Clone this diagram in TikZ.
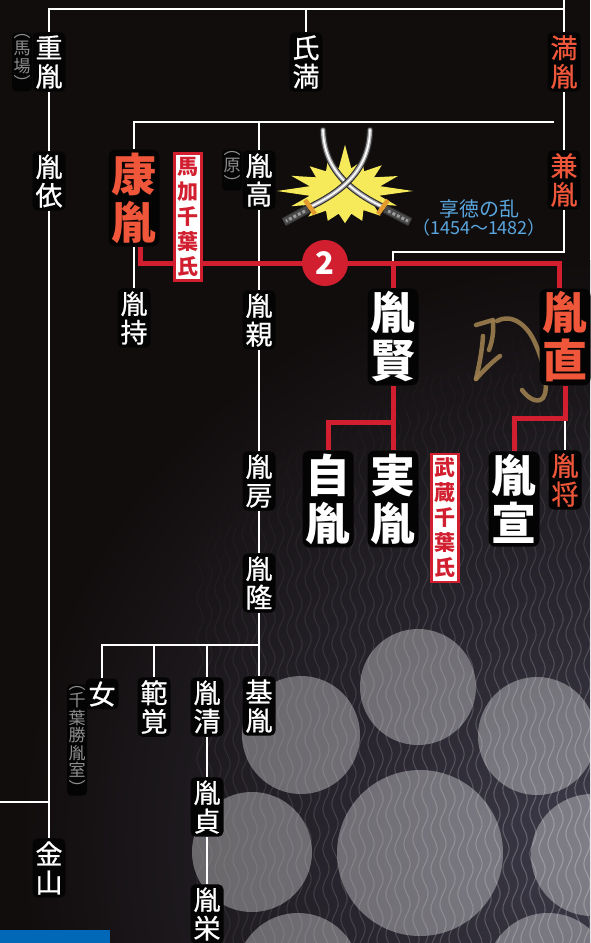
\documentclass[tikz,border=0pt]{standalone}
\usepackage{fontspec}
\setmainfont{Noto Sans CJK JP}
\newfontfamily\jpm[FakeBold=0.7]{Noto Sans CJK JP}
\usetikzlibrary{calc}
\definecolor{bg}{HTML}{110D0D}
\definecolor{halo}{HTML}{050404}
\definecolor{kred}{HTML}{D21F30}
\definecolor{korange}{HTML}{F0573A}
\definecolor{kblue}{HTML}{5AA6DE}
\definecolor{notegrey}{HTML}{8E8E8E}
\definecolor{texA}{HTML}{3E3C4A}
\definecolor{texB}{HTML}{28252E}
\definecolor{starY}{HTML}{F6EA5A}
\definecolor{kao}{HTML}{9C7E4E}
\definecolor{bandblue}{HTML}{0068B7}
\definecolor{bladeEdge}{HTML}{2E2E2E}
\definecolor{bladeGrey}{HTML}{A8A8AC}
\definecolor{guard}{HTML}{E39A2E}
\definecolor{grip}{HTML}{4A4A4A}
\definecolor{gripLight}{HTML}{9A9A9A}
% radial glow: the path's bounding circle corresponds to 25bp
\pgfdeclareradialshading{glow}{\pgfpoint{0bp}{0bp}}{color(0bp)=(texA); color(11bp)=(texB); color(25bp)=(bg); color(50bp)=(bg)}
\pgfdeclarelayer{texture}
\pgfdeclarelayer{lines}
\pgfsetlayers{texture,lines,main}
\begin{document}
\begin{tikzpicture}[x=1pt,y=-1pt,
  wline/.style={draw=white,line width=1.7pt},
  rline/.style={draw=kred,line width=5pt,line join=miter},
  nm/.style={fill=halo,rounded corners=5pt,inner xsep=3pt,inner ysep=3pt,align=center,text=white,font=\jpm\fontsize{27}{28.5}\selectfont},
  big/.style={nm,rounded corners=7pt,font=\bfseries\fontsize{45}{48}\selectfont},
  hl/.style={text=korange},
  note/.style={fill=halo,rounded corners=4pt,inner sep=1.5pt,align=center,text=notegrey,font=\fontsize{17}{17.5}\selectfont},
  clanbox/.style={draw=kred,line width=2.4pt,fill=white,text=kred,align=center,font=\bfseries\fontsize{21}{25}\selectfont,inner xsep=3pt,inner ysep=4pt},
  veil/.style={fill=white,fill opacity=0.34},
  weave/.style={draw=white,line width=1.1pt},
]
\useasboundingbox (0,0) rectangle (590,943);

% ---- textile background ----
\begin{pgfonlayer}{texture}
\fill[bg] (0,0) rectangle (590,943);
\begin{scope}
  \clip (0,0) rectangle (590,943);
  \shade[shading=glow] (600,840) circle (580pt);
  \foreach \xx in {200,209,...,590} {
    \foreach \s in {0,...,17} {
      \pgfmathsetmacro\ya{260+\s*38}
      \pgfmathsetmacro\yb{\ya+38}
      \pgfmathsetmacro\op{max(0,0.26*(1-veclen(\xx-600,\ya+19-840)/520))}
      \draw[weave,opacity=\op] plot[variable=\t,domain=\ya:\yb,samples=9] ({\xx+3.2*sin(\t*9+\xx*5)},\t);
    }
  }
  % translucent discs
  \fill[veil] (418,687) circle (58pt);
  \fill[veil] (301,735) circle (59pt);
  \fill[veil] (537,736) circle (59pt);
  \fill[veil] (420,853) circle (83pt);
  \fill[veil] (252,852) circle (60pt);
  \fill[veil] (592,855) circle (61pt);
  \fill[veil] (298,975) circle (62pt);
  \fill[veil] (548,975) circle (62pt);
\end{scope}
\fill[bandblue] (0,930) rectangle (110,943);
\end{pgfonlayer}

% ---- crossed swords ----
\begin{scope}[shift={(345,191)},yscale=0.70]
  \fill[starY] (0:68) \foreach \a/\r in {11/35,22/56,34/34,45/50,56/33,68/46,79/33,90/46,101/33,112/46,124/34,135/52,146/34,158/58,169/36,180/68,191/36,202/58,214/35,225/50,236/34,248/46,259/33,270/66,281/33,292/47,304/34,315/52,326/35,338/57,349/36} { -- (\a:\r) } -- cycle;
\end{scope}
\foreach \p in {1,2} {
  \ifnum\p=1
    \def\bl{(323,130) .. controls (324,168) and (348,190) .. (383,207)}
  \else
    \def\bl{(370,130) .. controls (369,168) and (345,190) .. (310,207)}
  \fi
  \draw[bladeEdge,line width=6.5pt,line cap=round] \bl;
  \draw[bladeGrey,line width=4.2pt,line cap=round] \bl;
  \draw[white,line width=1.6pt,line cap=round] \bl;
}
\draw[bladeEdge,line width=9pt] (385,209) -- (410,222);
\draw[grip,line width=7pt] (385,209) -- (410,222);
\draw[gripLight,line width=3pt,dash pattern=on 3pt off 2pt] (388,211) -- (408,221);
\draw[bladeEdge,line width=9pt] (308,209) -- (284,222);
\draw[grip,line width=7pt] (308,209) -- (284,222);
\draw[gripLight,line width=3pt,dash pattern=on 3pt off 2pt] (305,211) -- (286,221);
\draw[guard,line width=4.5pt] (378,214) -- (388,200);
\draw[guard,line width=4.5pt] (305,200) -- (315,214);

% ---- brush signature ----
\begin{scope}[kao,line width=4.5pt,line cap=round,line join=round,opacity=0.9]
  \draw (476,325) -- (493,320);
  \draw (497,321) .. controls (512,313) and (528,325) .. (536,345) .. controls (545,365) and (549,390) .. (543,398) .. controls (537,404) and (528,398) .. (522,390);
  \draw (493,322) .. controls (494,332) and (492,342) .. (489,350);
  \draw (483,336) .. controls (482,352) and (479,366) .. (476,379);
  \draw (476,379) .. controls (484,370) and (492,362) .. (500,356);
\end{scope}

% ---- people ----
\node[nm] (shige) at (49,62) {重\\胤};
\node[note] (baba) at (22,62) {︵\\馬\\場\\︶};
\node[nm] (yori) at (49,181) {胤\\依};
\node[nm] (kin) at (49,868) {金\\山};
\node[nm] (uji) at (306,62) {氏\\満};
\node[nm,hl] (mitsu) at (564,62) {満\\胤};
\node[nm,hl] (kane) at (564,180) {兼\\胤};
\node[big,hl] (yasu) at (134,198) {康\\胤};
\node[clanbox] (makuwari) at (188,217) {馬\\加\\千\\葉\\氏};
\node[note] (hara) at (232,170) {︵\\原\\︶};
\node[nm] (taka) at (259,180) {胤\\高};
\node[nm] (mochi) at (134,318) {胤\\持};
\node[nm] (chika) at (259,320) {胤\\親};
\node[nm] (fusa) at (259,481) {胤\\房};
\node[nm] (takab) at (259,583) {胤\\隆};
\node[nm] (moto) at (259,706) {基\\胤};
\node[nm] (onna) at (102,694) {女};
\node[note] (katsu) at (77,740) {︵\\千\\葉\\勝\\胤\\室\\︶};
\node[nm] (han) at (154,707) {範\\覚};
\node[nm] (kiyo) at (207,707) {胤\\清};
\node[nm] (sada) at (207,807) {胤\\貞};
\node[nm] (hide) at (207,914) {胤\\栄};
\node[big] (kata) at (393,337) {胤\\賢};
\node[big] (jita) at (328,499) {自\\胤};
\node[big] (sane) at (393,499) {実\\胤};
\node[clanbox] (musashi) at (445,518) {武\\蔵\\千\\葉\\氏};
\node[big,hl] (nao) at (565,337) {胤\\直};
\node[big] (nobu) at (514,499) {胤\\宣};
\node[nm,hl] (masa) at (565,480) {胤\\将};
\node[text=kblue,align=center] (kyo) at (479,218) {{\fontsize{20}{24}\selectfont 享徳の乱}\\{\fontsize{18}{20}\selectfont （1454～1482）}};
\node[circle,fill=kred,minimum size=46pt,inner sep=0pt,text=white,font=\bfseries\fontsize{31}{31}\selectfont] (two) at (325,263) {2};

% ---- lineage lines ----
\coordinate (t1) at (49,9);
\coordinate (t2) at (564,9);
\coordinate (h2l) at (134,122);
\coordinate (h2r) at (554,122);
\coordinate (h3l) at (102,645);
\coordinate (lb) at (0,802);
\coordinate (wk) at (393,252);
\coordinate (rk) at (140,263);
\coordinate (rr) at (559,263);
\coordinate (nb) at (565,418);
\coordinate (kb) at (393,422);
\begin{pgfonlayer}{lines}
  \draw[wline] (shige) -- (t1) -- (t2) -- (mitsu);
  \draw[wline] (t2) -- ++(0,-12);
  \draw[wline] (t1 -| uji) -- (uji);
  \draw[wline] (shige) -- (yori) -- (kin);
  \draw[wline] (lb) -- (lb -| kin);
  \draw[wline] (mitsu) -- (kane);
  \draw[wline] (h2r) -- (h2l) -- (yasu);
  \draw[wline] (h2l -| taka) -- (taka);
  \draw[wline] (yasu) -- (mochi);
  \draw[wline] (taka) -- (chika) -- (fusa) -- (takab) -- (moto);
  \draw[wline] (h3l -| moto) -- (h3l) -- (onna);
  \draw[wline] (h3l -| han) -- (han);
  \draw[wline] (h3l -| kiyo) -- (kiyo);
  \draw[wline] (kiyo) -- (sada) -- (hide);
  \draw[wline] (kane) |- (wk) -- (wk |- rk);
  \draw[wline] (nb) -- (masa);
  \draw[rline] (yasu.south -| rk) -- (rk) -- (rr) -- (rr |- nao.north);
  \draw[rline] (wk |- rk) -- (kata);
  \draw[rline] (nao) -- (nb) -| (nobu);
  \draw[rline] (kata) -- (sane);
  \draw[rline] (kb) -| (jita);
\end{pgfonlayer}
\end{tikzpicture}
\end{document}
